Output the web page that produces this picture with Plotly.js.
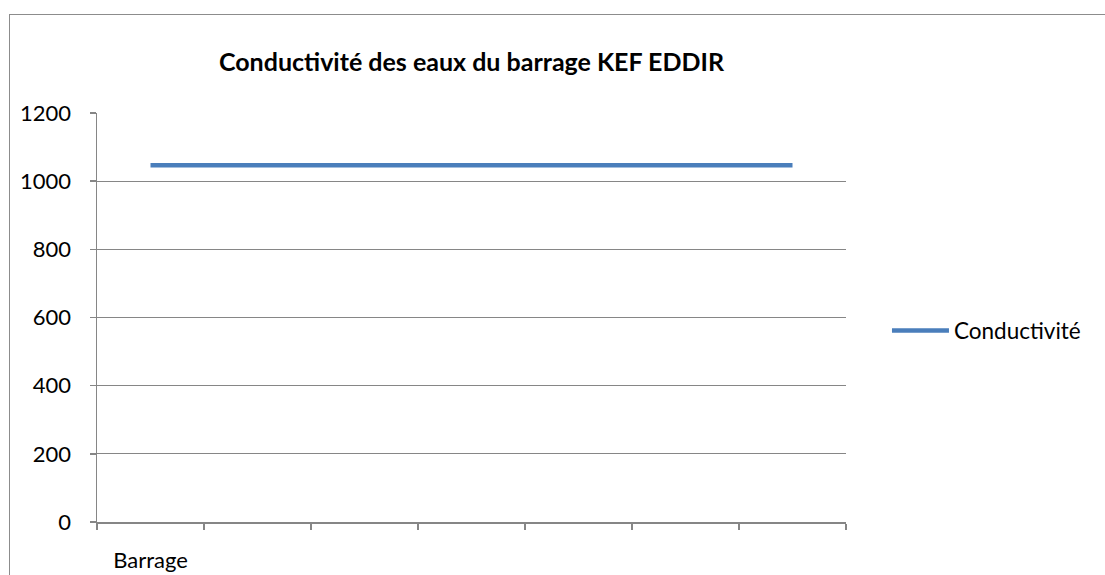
<!DOCTYPE html>
<html>
<head>
<meta charset="utf-8">
<script src="https://cdn.plot.ly/plotly-3.0.1.min.js"></script>
<style>
html,body{margin:0;padding:0;background:#fff;}
#frame{position:absolute;left:9px;top:14px;width:1110px;height:580px;border:1px solid #8c8c8c;box-sizing:border-box;pointer-events:none;z-index:5;}
#chart{position:absolute;left:0;top:0;width:1105px;height:575px;}
</style>
</head>
<body>
<div id="chart"></div>
<div id="frame"></div>
<script>
const categories = ["Barrage", " ", "  ", "   ", "    ", "     ", "      "];
const conductivite = [1047, 1047, 1047, 1047, 1047, 1047, 1047];
const seriesName = "Conductivité";
const chartTitle = "Conductivité des eaux du barrage KEF EDDIR";

const font = "Lato, 'Open Sans', 'Liberation Sans', sans-serif";

Plotly.newPlot("chart", [{
  x: categories,
  y: conductivite,
  type: "scatter",
  mode: "lines",
  name: seriesName,
  line: {color: "#4a7ebb", width: 4.5},
  showlegend: true
}], {
  width: 1105, height: 575,
  margin: {l: 97, r: 259, t: 113, b: 53},
  paper_bgcolor: "#fff", plot_bgcolor: "#fff",
  font: {family: font, size: 22, color: "#000"},
  title: {text: "<b>" + chartTitle + "</b>", font: {family: font, size: 25, color: "#000"},
          x: 0.5, xref: "paper", y: 1 - 62/575, yref: "container", yanchor: "middle"},
  xaxis: {
    type: "category",
    categoryorder: "array", categoryarray: categories,
    range: [-0.5, 6.5],
    tickson: "boundaries",
    ticks: "outside", ticklen: 6, tickcolor: "#868686", tickwidth: 1.5,
    showline: true, linecolor: "#868686", linewidth: 1.5,
    showgrid: false, zeroline: false,
    tickfont: {family: font, size: 22},
    ticklabelstandoff: 18,
    fixedrange: true
  },
  yaxis: {
    range: [0, 1200], dtick: 200, tick0: 0,
    ticks: "outside", ticklen: 6, tickcolor: "#868686", tickwidth: 1.5,
    showline: true, linecolor: "#868686", linewidth: 1.5,
    showgrid: true, gridcolor: "#868686", gridwidth: 1,
    zeroline: false,
    tickfont: {family: font, size: 22},
    ticklabelstandoff: 14,
    fixedrange: true
  },
  legend: {x: 1.0547, xanchor: "left", y: 0.467, yanchor: "middle",
           font: {family: font, size: 22.5}, itemwidth: 57, bgcolor: "rgba(0,0,0,0)"},
  showlegend: true
}, {displayModeBar: false, staticPlot: true});
</script>
</body>
</html>
